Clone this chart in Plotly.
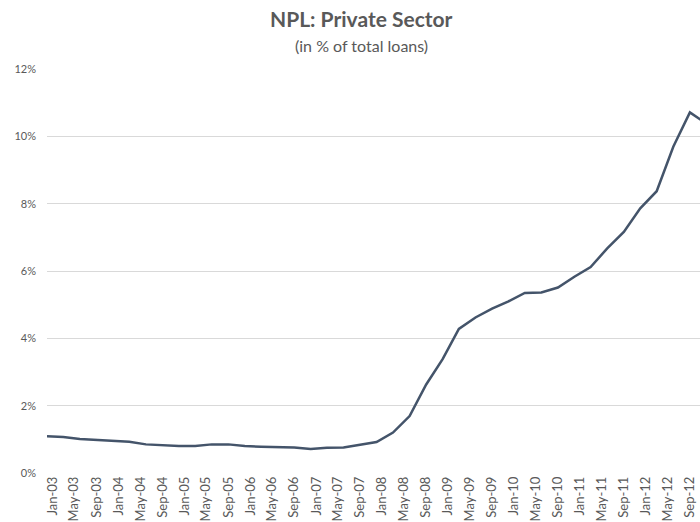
import plotly.graph_objects as go

# Quarterly non-performing loans ratio, private sector (% of total loans)
quarters = [
    "2002-12", "2003-03", "2003-06", "2003-09", "2003-12",
    "2004-03", "2004-06", "2004-09", "2004-12",
    "2005-03", "2005-06", "2005-09", "2005-12",
    "2006-03", "2006-06", "2006-09", "2006-12",
    "2007-03", "2007-06", "2007-09", "2007-12",
    "2008-03", "2008-06", "2008-09", "2008-12",
    "2009-03", "2009-06", "2009-09", "2009-12",
    "2010-03", "2010-06", "2010-09", "2010-12",
    "2011-03", "2011-06", "2011-09", "2011-12",
    "2012-03", "2012-06", "2012-09", "2012-12",
]
npl_pct = [
    1.09, 1.07, 1.01, 0.99, 0.96,
    0.93, 0.85, 0.82, 0.80,
    0.80, 0.85, 0.85, 0.80,
    0.78, 0.76, 0.76, 0.71,
    0.75, 0.76, 0.85, 0.92,
    1.20, 1.69, 2.63, 3.38,
    4.28, 4.62, 4.88, 5.10,
    5.35, 5.36, 5.51, 5.83,
    6.12, 6.67, 7.16, 7.86,
    8.37, 9.69, 10.71, 10.38,
]

# Axis labels every four months
tick_dates = []
tick_text = []
month_names = {1: "Jan", 5: "May", 9: "Sep"}
for year in range(2003, 2013):
    for m in (1, 5, 9):
        tick_dates.append(f"{year}-{m:02d}-01")
        tick_text.append(f"{month_names[m]}-{str(year)[2:]}")

y_ticks = [0, 2, 4, 6, 8, 10, 12]
y_text = [f"{v}%" for v in y_ticks]

grey_text = "#595959"
grid = "#d9d9d9"
font_family = "Lato, 'Open Sans', sans-serif"

fig = go.Figure(
    go.Scatter(
        x=quarters,
        y=npl_pct,
        mode="lines",
        line=dict(color="#44546A", width=2.5),
        hoverinfo="x+y",
    )
)

fig.update_layout(
    width=700,
    height=522,
    margin=dict(l=47, r=0, t=69, b=49),
    paper_bgcolor="white",
    plot_bgcolor="white",
    showlegend=False,
    font=dict(family=font_family, color=grey_text, size=11),
    annotations=[
        dict(
            text="<b>NPL: Private Sector</b>",
            xref="paper", yref="paper", x=0.481, y=1.124,
            xanchor="center", yanchor="middle", showarrow=False,
            font=dict(size=21, color=grey_text, family=font_family),
        ),
        dict(
            text="(in % of total loans)",
            xref="paper", yref="paper", x=0.481, y=1.059,
            xanchor="center", yanchor="middle", showarrow=False,
            font=dict(size=16, color=grey_text, family=font_family),
        ),
    ],
)

fig.update_xaxes(
    type="date",
    range=["2002-12-01", "2012-10-27"],
    tickmode="array",
    tickvals=tick_dates,
    ticktext=tick_text,
    tickangle=-90,
    tickfont=dict(size=13, color=grey_text),
    showgrid=False,
    showline=False,
    zeroline=False,
    ticks="",
)

fig.update_yaxes(
    range=[0, 12],
    tickmode="array",
    tickvals=y_ticks,
    ticktext=y_text,
    tickfont=dict(size=11, color=grey_text),
    showgrid=True,
    gridcolor=grid,
    gridwidth=1,
    zeroline=False,
    showline=False,
    ticks="",
    ticklabelstandoff=10,
)

fig.write_html("out.html")
